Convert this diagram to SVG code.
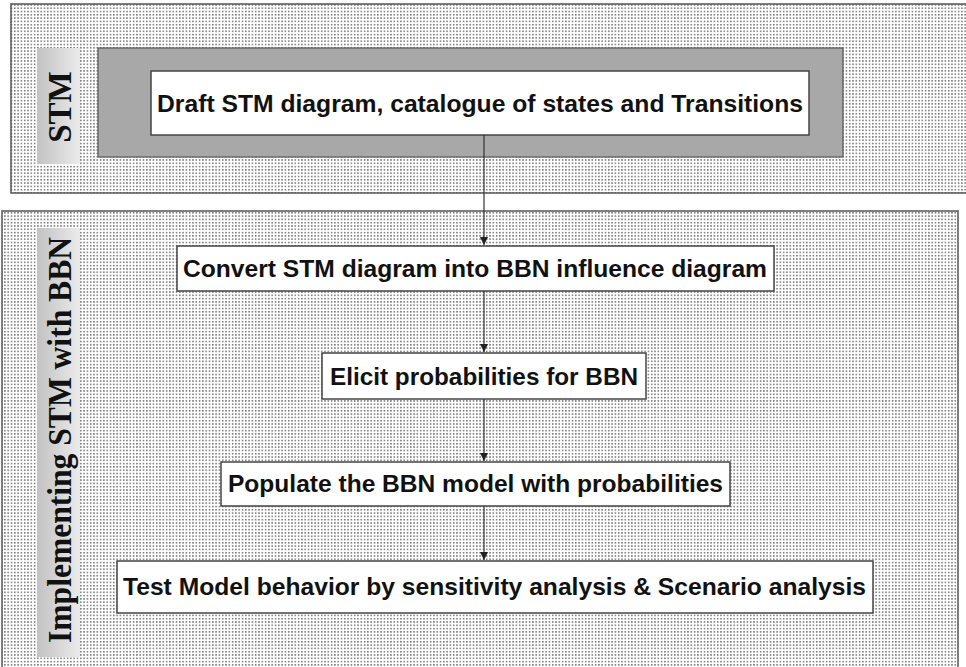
<svg xmlns="http://www.w3.org/2000/svg" width="966" height="667" viewBox="0 0 966 667">
<defs>
<pattern id="dots" x="0" y="0" width="3.3" height="3.3" patternUnits="userSpaceOnUse">
<rect width="3.3" height="3.3" fill="#ffffff"/>
<rect x="1" y="1" width="1.2" height="1.2" fill="#222222"/>
</pattern>
<linearGradient id="bar" x1="0" y1="0" x2="1" y2="0">
<stop offset="0" stop-color="#c2c2c2"/>
<stop offset="1" stop-color="#ebebeb"/>
</linearGradient>
<marker id="arr" markerWidth="10" markerHeight="10" refX="8" refY="4" orient="auto" markerUnits="userSpaceOnUse">
<path d="M0,0 L8,4 L0,8 Z" fill="#222"/>
</marker>
<style>
.panel{fill:url(#dots);stroke:#555;stroke-width:1.5}
.bar{fill:url(#bar)}
.vlabel{font-family:"Liberation Serif","Times New Roman",serif;font-weight:bold;font-size:33px;fill:#111}
.box{fill:#ffffff;stroke:#444;stroke-width:1.5}
.txt{font-family:"Liberation Sans",Arial,sans-serif;font-weight:bold;font-size:24px;fill:#111}
.conn{stroke:#333;stroke-width:1.2;fill:none}
</style>
</defs>
<g id="panel-stm">
<rect class="panel" x="11" y="4" width="962" height="189"/>
<rect class="bar" x="37" y="48" width="43" height="116"/>
<text class="vlabel" transform="translate(71,107) rotate(-90)" text-anchor="middle">STM</text>
</g>
<g id="panel-impl">
<rect class="panel" x="2" y="211" width="956" height="465"/>
<rect class="bar" x="37" y="228" width="43" height="429"/>
<text class="vlabel" transform="translate(71,440) rotate(-90)" text-anchor="middle" textLength="406" lengthAdjust="spacingAndGlyphs">Implementing STM with BBN</text>
</g>
<g id="node-draft">
<rect x="98" y="48" width="745" height="109" fill="#a8a8a8" stroke="#555" stroke-width="1.2"/>
<rect class="box" x="151" y="71" width="658" height="64"/>
<text class="txt" x="157" y="112" textLength="646" lengthAdjust="spacingAndGlyphs">Draft STM diagram, catalogue of states and Transitions</text>
</g>
<g id="node-convert">
<rect class="box" x="177" y="246" width="597" height="45"/>
<text class="txt" x="183" y="277" textLength="584" lengthAdjust="spacingAndGlyphs">Convert STM diagram into BBN influence diagram</text>
</g>
<g id="node-elicit">
<rect class="box" x="322" y="353" width="324" height="46"/>
<text class="txt" x="330" y="385" textLength="308" lengthAdjust="spacingAndGlyphs">Elicit probabilities for BBN</text>
</g>
<g id="node-populate">
<rect class="box" x="221" y="462" width="509" height="44"/>
<text class="txt" x="228" y="492" textLength="495" lengthAdjust="spacingAndGlyphs">Populate the BBN model with probabilities</text>
</g>
<g id="node-test">
<rect class="box" x="117" y="561" width="756" height="52"/>
<text class="txt" x="123" y="595" textLength="743" lengthAdjust="spacingAndGlyphs">Test Model behavior by sensitivity analysis &amp; Scenario analysis</text>
</g>
<g id="connectors">
<line class="conn" x1="484" y1="135" x2="484" y2="245" marker-end="url(#arr)"/>
<line class="conn" x1="484" y1="291" x2="484" y2="352" marker-end="url(#arr)"/>
<line class="conn" x1="484" y1="399" x2="484" y2="461" marker-end="url(#arr)"/>
<line class="conn" x1="484" y1="506" x2="484" y2="560" marker-end="url(#arr)"/>
</g>
</svg>
